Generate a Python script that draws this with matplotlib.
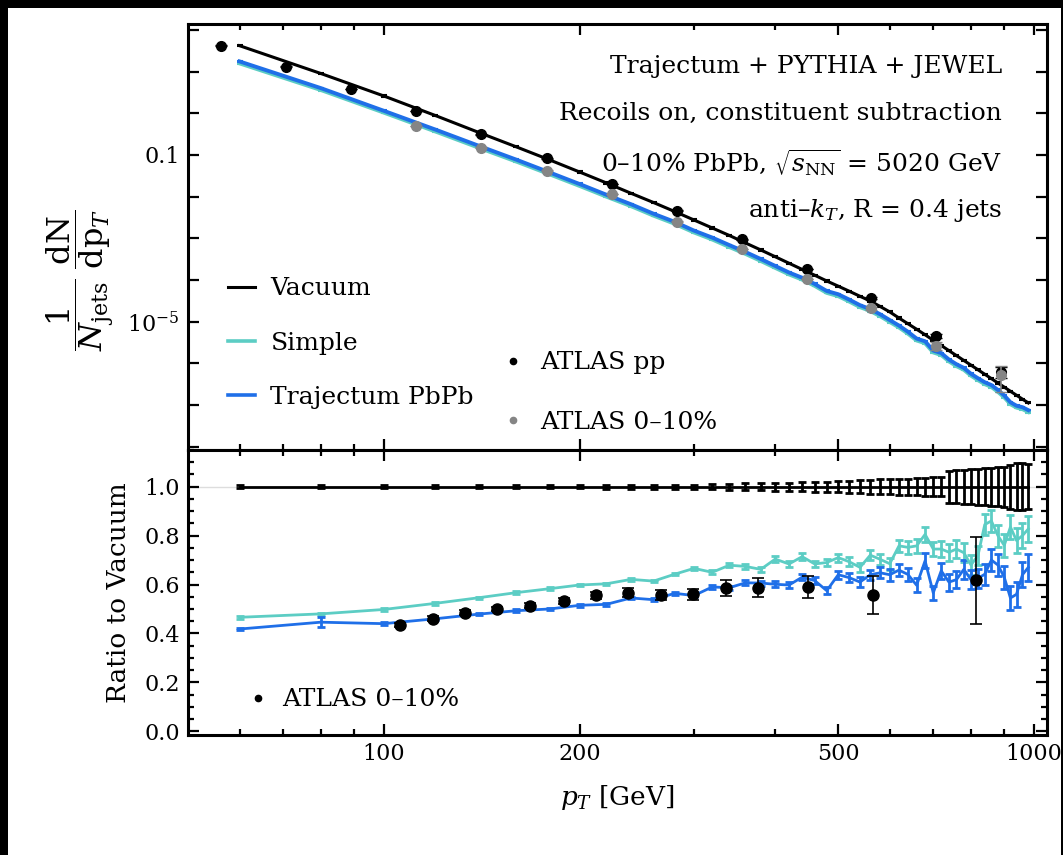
import matplotlib.pyplot as plt
import matplotlib.ticker as ticker
from matplotlib.patches import Rectangle

plt.rcParams['font.family'] = ['DejaVu Serif']
plt.rcParams['mathtext.fontset'] = 'dejavuserif'

# model bins (GeV)
pt = list(range(60, 1000, 20))

# spectra, top panel
vac_top = [42.0, 9.04, 2.61, 0.887, 0.347, 0.156, 0.0759, 0.0391,
           0.0213, 0.01205, 7.21e-3, 4.41e-3, 2.75e-3, 1.77e-3, 1.17e-3, 7.73e-4, 5.25e-4, 3.61e-4,
           2.52e-4, 1.79e-4, 1.30e-4, 9.46e-5, 7.10e-5, 5.36e-5, 4.06e-5, 3.13e-5, 2.31e-5, 1.71e-5,
           1.22e-5, 8.89e-6, 6.56e-6, 4.84e-6, 3.57e-6, 2.68e-6, 2.01e-6, 1.53e-6, 1.17e-6, 9.04e-7,
           7.00e-7, 5.46e-7, 4.29e-7, 3.37e-7, 2.68e-7, 2.13e-7, 1.71e-7, 1.38e-7, 1.12e-7]
traj_top = [17.6, 4.03, 1.15, 0.408, 0.166, 0.0769, 0.0380, 0.0201,
            0.0111, 6.57e-3, 3.88e-3, 2.49e-3, 1.53e-3, 1.04e-3, 6.87e-4, 4.69e-4, 3.18e-4, 2.17e-4,
            1.51e-4, 1.13e-4, 8.01e-5, 5.44e-5, 4.54e-5, 3.37e-5, 2.48e-5, 2.00e-5, 1.50e-5, 1.09e-5,
            8.04e-6, 5.70e-6, 3.92e-6, 3.37e-6, 2.02e-6, 1.76e-6, 1.23e-6, 9.49e-7, 7.75e-7, 5.60e-7,
            4.38e-7, 3.51e-7, 3.00e-7, 2.29e-7, 1.69e-7, 1.16e-7, 9.58e-8, 8.83e-8, 7.50e-8]
simple_top = [15.8, 3.63, 1.04, 0.367, 0.149, 0.0692, 0.0342, 0.0181,
              9.99e-3, 5.91e-3, 3.49e-3, 2.24e-3, 1.38e-3, 9.36e-4, 6.18e-4, 4.22e-4, 2.86e-4, 1.95e-4,
              1.36e-4, 1.02e-4, 7.21e-5, 4.90e-5, 4.09e-5, 3.03e-5, 2.23e-5, 1.80e-5, 1.35e-5, 9.81e-6,
              7.24e-6, 5.13e-6, 3.53e-6, 3.03e-6, 1.82e-6, 1.58e-6, 1.11e-6, 8.54e-7, 6.98e-7, 5.04e-7,
              3.94e-7, 3.16e-7, 2.70e-7, 2.06e-7, 1.52e-7, 1.04e-7, 8.62e-8, 7.95e-8, 6.75e-8]

# ATLAS spectra
atlas_pt = [56.2, 70.8, 89.1, 112, 141, 178, 224, 282, 355, 447, 562, 708, 891]
atlas_pp = [42.0, 13.2, 3.84, 1.14, 0.314, 0.0833, 0.0201, 4.60e-3, 9.48e-4, 1.84e-4,
            3.64e-5, 4.53e-6, 6.19e-7]
atlas_pp_rel = [0.02] * 10 + [0.05, 0.1, 0.3]
atlas_aa_pt = [112, 141, 178, 224, 282, 355, 447, 562, 708, 891]
atlas_aa = [0.497, 0.150, 0.0420, 0.0116, 2.51e-3, 5.55e-4, 1.06e-4, 2.10e-5, 2.65e-6, 5.25e-7]
atlas_aa_rel = [0.02] * 7 + [0.08, 0.2, 0.6]

# ratios, bottom panel
vac_ratio = [1.0] * len(pt)
vac_err = [0.006] * 8 + [0.008] * 5 + [0.01, 0.012, 0.013, 0.015, 0.016,
           0.017, 0.018, 0.02, 0.021, 0.022, 0.024, 0.026, 0.028, 0.03, 0.03,
           0.032, 0.033, 0.035, 0.037, 0.038, 0.04, 0.065, 0.067, 0.07, 0.072,
           0.074, 0.076, 0.078, 0.08, 0.082, 0.09, 0.095, 0.097, 0.092]
simple_ratio = [0.466, 0.48, 0.498, 0.523, 0.546, 0.567, 0.583, 0.598,
                0.603, 0.621, 0.614, 0.642, 0.666, 0.65, 0.679, 0.674, 0.662, 0.704,
                0.684, 0.714, 0.684, 0.69, 0.71, 0.693, 0.67, 0.72, 0.703, 0.685,
                0.758, 0.752, 0.758, 0.805, 0.745, 0.745, 0.732, 0.745, 0.73, 0.68,
                0.718, 0.845, 0.86, 0.80, 0.76, 0.835, 0.78, 0.80, 0.827]
traj_ratio = [0.418, 0.446, 0.44, 0.46, 0.479, 0.493, 0.50, 0.515,
              0.519, 0.545, 0.538, 0.564, 0.555, 0.59, 0.587, 0.607, 0.606, 0.601,
              0.598, 0.63, 0.616, 0.575, 0.64, 0.628, 0.61, 0.64, 0.648, 0.64,
              0.659, 0.641, 0.597, 0.697, 0.566, 0.656, 0.61, 0.62, 0.662, 0.62,
              0.625, 0.642, 0.70, 0.68, 0.63, 0.545, 0.56, 0.64, 0.67]
model_err_hi = [0.008, 0.008, 0.01, 0.01, 0.012,
                0.012, 0.013, 0.014, 0.015, 0.016, 0.018, 0.02, 0.02, 0.022, 0.024,
                0.025, 0.027, 0.028, 0.03, 0.03, 0.032, 0.035, 0.035, 0.038, 0.04,
                0.04, 0.042, 0.044, 0.045, 0.047, 0.05, 0.05, 0.052, 0.055]
simple_err = [0.005] * 13 + model_err_hi
traj_err = [0.005, 0.02] + [0.005] * 11 + model_err_hi

ratio_pt = [106, 119, 133.5, 149.5, 168, 189, 212, 237.5, 266.5, 299, 335.5, 376.5, 449.5, 566, 815.5]
ratio_atlas = [0.436, 0.46, 0.484, 0.50, 0.514, 0.532, 0.556, 0.567, 0.557, 0.56,
               0.587, 0.587, 0.591, 0.557, 0.617]
ratio_atlas_err = [0.008, 0.01, 0.01, 0.01, 0.012, 0.012, 0.015, 0.018, 0.02, 0.022,
                   0.033, 0.04, 0.045, 0.078, 0.177]

TEAL = '#5ccdc4'
BLUE = '#1f6fe8'
GRAY = '#858585'

fig = plt.figure(figsize=(10.63, 8.55), dpi=100, facecolor='black')
fig.patches.append(Rectangle((8 / 1063, 0), 1053 / 1063, 1 - 8 / 855, transform=fig.transFigure,
                             facecolor='white', edgecolor='none', zorder=-10))

ax1 = fig.add_axes([0.1769, 0.4737, 0.808, 0.4982])
ax2 = fig.add_axes([0.1769, 0.1404, 0.808, 0.3333], sharex=ax1)

# top panel
top_rel = 0.03
ax1.errorbar(pt, simple_top, yerr=[v * top_rel for v in simple_top], color=TEAL, lw=2.8,
             elinewidth=1.5, capsize=2, capthick=1.5)
l_simple, = ax1.plot([], [], color=TEAL, lw=2.6)
ax1.errorbar(pt, traj_top, yerr=[v * top_rel for v in traj_top], color=BLUE, lw=2.8,
             elinewidth=1.5, capsize=2, capthick=1.5)
l_traj, = ax1.plot([], [], color=BLUE, lw=2.6)
ax1.errorbar(pt, vac_top, yerr=[v * top_rel for v in vac_top], color='black', lw=2.2,
             elinewidth=1.5, capsize=2, capthick=1.5)
l_vac, = ax1.plot([], [], color='black', lw=2.2)

ax1.errorbar(atlas_pt, atlas_pp, yerr=[v * r for v, r in zip(atlas_pp, atlas_pp_rel)],
             fmt='o', color='black', ms=7, elinewidth=1.2, capsize=4, zorder=5)
ax1.errorbar(atlas_aa_pt, atlas_aa, yerr=[v * r for v, r in zip(atlas_aa, atlas_aa_rel)],
             fmt='o', color=GRAY, ms=7, elinewidth=1.2, capsize=4, zorder=6)
p_pp, = ax1.plot([], [], 'o', color='black', ms=4.5)
p_aa, = ax1.plot([], [], 'o', color=GRAY, ms=4.5)

ax1.set_xscale('log')
ax1.set_yscale('log')
ax1.set_xlim(50, 1047)
ax1.set_ylim(8.3e-9, 139)
ax1.yaxis.set_major_locator(ticker.LogLocator(base=10, subs=(1.0,), numticks=30))
ax1.yaxis.set_minor_locator(ticker.NullLocator())


def ylab(v, pos):
    if abs(v - 0.1) < 1e-6:
        return '0.1'
    if abs(v - 1e-5) < 1e-10:
        return r'$10^{-5}$'
    return ''


ax1.yaxis.set_major_formatter(ticker.FuncFormatter(ylab))
ax1.tick_params(labelbottom=False)

leg1 = ax1.legend(handles=[l_vac, l_simple, l_traj], labels=['Vacuum', 'Simple', 'Trajectum PbPb'],
                  loc='center left', bbox_to_anchor=(0.047, 0.251), frameon=False, fontsize=18,
                  borderpad=0, borderaxespad=0, handlelength=1.08, handletextpad=0.6,
                  labelspacing=1.25)
ax1.add_artist(leg1)
ax1.legend(handles=[p_pp, p_aa], labels=['ATLAS pp', 'ATLAS 0–10%'], loc='center left',
           bbox_to_anchor=(0.364, 0.135), frameon=False, fontsize=18, borderpad=0,
           borderaxespad=0, handlelength=1.0, handletextpad=0.58, labelspacing=1.45)

txt = dict(transform=ax1.transAxes, ha='right', va='baseline', fontsize=18)
ax1.text(0.9476, 0.885, 'Trajectum + PYTHIA + JEWEL', **txt)
ax1.text(0.9476, 0.775, 'Recoils on, constituent subtraction', **txt)
ax1.text(0.9476, 0.652, r'0–10% PbPb, $\sqrt{s_{\mathrm{NN}}}$ = 5020 GeV', **txt)
ax1.text(0.9476, 0.547, r'anti–$k_T$, R = 0.4 jets', **txt)

ax1.set_ylabel(r'$\dfrac{1}{N_{\mathrm{jets}}}\;\dfrac{\mathrm{dN}}{\mathrm{dp}_{T}}$', fontsize=23)
ax1.yaxis.set_label_coords(-0.084, 0.40)

# bottom panel
ax2.axhline(1.0, color='#dddddd', lw=1, zorder=0)
ax2.errorbar(pt, simple_ratio, yerr=simple_err, color=TEAL, lw=2, elinewidth=2,
             capsize=3, capthick=2)
ax2.errorbar(pt, traj_ratio, yerr=traj_err, color=BLUE, lw=2, elinewidth=2,
             capsize=3, capthick=2)
ax2.errorbar(pt, vac_ratio, yerr=vac_err, color='black', lw=2, elinewidth=2,
             capsize=3, capthick=2)
ax2.errorbar(ratio_pt, ratio_atlas, yerr=ratio_atlas_err, fmt='o', color='black', ms=8,
             elinewidth=1.2, capsize=4, capthick=1.2, zorder=6)
p_r, = ax2.plot([], [], 'o', color='black', ms=4.5)
ax2.legend(handles=[p_r], labels=['ATLAS 0–10%'], loc='center left',
           bbox_to_anchor=(0.067, 0.123), frameon=False, fontsize=18, borderpad=0,
           borderaxespad=0, handlelength=1.0, handletextpad=0.46)

ax2.set_ylim(-0.015, 1.15)
ax2.yaxis.set_major_locator(ticker.MultipleLocator(0.2))
ax2.yaxis.set_minor_locator(ticker.MultipleLocator(0.05))
ax2.yaxis.set_major_formatter(ticker.FormatStrFormatter('%.1f'))
ax2.xaxis.set_major_locator(ticker.FixedLocator([100, 200, 500, 1000]))
ax2.xaxis.set_minor_locator(ticker.FixedLocator([60, 70, 80, 90, 300, 400, 600, 700, 800, 900]))
ax2.xaxis.set_major_formatter(ticker.FuncFormatter(lambda v, p: f'{v:g}'))
ax2.xaxis.set_minor_formatter(ticker.NullFormatter())

ax2.set_ylabel('Ratio to Vacuum', fontsize=19)
ax2.yaxis.set_label_coords(-0.066, 0.5)
ax2.set_xlabel(r'$p_T$ [GeV]', fontsize=19)
ax2.xaxis.set_label_coords(0.5, -0.17)

for ax in (ax1, ax2):
    for s in ax.spines.values():
        s.set_linewidth(2.2)
    ax.tick_params(which='both', direction='in', top=True, right=True, labelsize=16,
                   width=1.6, pad=6)
    ax.tick_params(which='major', length=8)
    ax.tick_params(which='minor', length=4.5)

fig.savefig('out.png', dpi=100)
